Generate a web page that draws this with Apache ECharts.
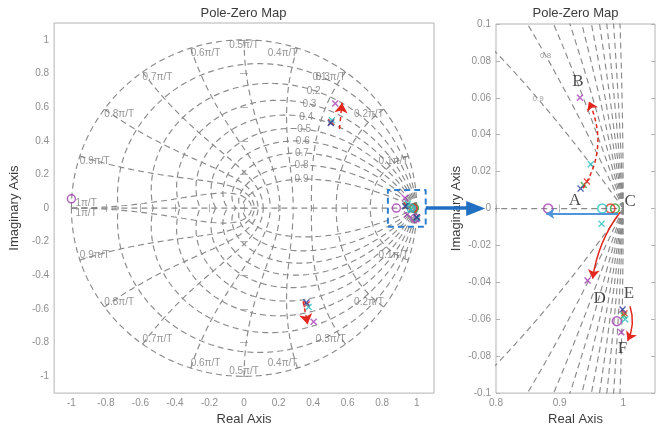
<!DOCTYPE html>
<html><head><meta charset="utf-8">
<script src="https://cdn.jsdelivr.net/npm/echarts@6/dist/echarts.min.js"></script>
<style>html,body{margin:0;padding:0;background:#fff}#c{width:669px;height:431px}</style>
</head><body><div id="c"></div>
<script>
// ---------------- data ----------------
const xTicksMain = [-1, -0.8, -0.6, -0.4, -0.2, 0, 0.2, 0.4, 0.6, 0.8, 1];
const yTicksMain = [-1, -0.8, -0.6, -0.4, -0.2, 0, 0.2, 0.4, 0.6, 0.8, 1];
const xTicksZoom = [0.8, 0.9, 1];
const yTicksZoom = [-0.1, -0.08, -0.06, -0.04, -0.02, 0, 0.02, 0.04, 0.06, 0.08, 0.1];
const dampingRatios = [0.1, 0.2, 0.3, 0.4, 0.5, 0.6, 0.7, 0.8, 0.9];
const natFreqs = [0.1, 0.2, 0.3, 0.4, 0.5, 0.6, 0.7, 0.8, 0.9, 1]; // x pi/T

// poles (x) and zeros (o), one colour group each
const purplePoles = [[0.528, 0.622], [0.403, -0.676], [0.932, 0.060], [0.944, -0.039], [0.997, -0.067]];
const purpleZeros = [[-1.0, 0.055], [0.882, 0], [0.990, -0.061]];
const cyanPoles   = [[0.509, 0.522], [0.374, -0.588], [0.949, 0.024], [0.966, -0.0083], [1.003, -0.060]];
const cyanZeros   = [[0.967, 0]];
const redPoles    = [[0.505, 0.512], [0.363, -0.572], [0.943, 0.0147], [1.002, -0.0567]];
const redZeros    = [[0.980, 0]];
const greenPoles  = [[0.938, 0.0128], [1.001, -0.058]];
const greenZeros  = [[0.987, 0]];
const navyPoles   = [[0.502, 0.506], [0.361, -0.562], [0.933, 0.0108], [0.999, -0.0547]];

// annotations (data coordinates)
const trajAB = [[0.937, 0.011], [0.946, 0.058]];
const trajCD = [[0.995, -0.002], [0.952, -0.038]];
const trajEF = [[1.0107, -0.0529], [1.007, -0.0717]];
const trajCA = [[0.992, -0.0028], [0.879, -0.0028]];
const trajUpper = [[0.553, 0.47], [0.567, 0.625]];
const trajLower = [[0.342, -0.555], [0.368, -0.69]];
const pointLetters = [['A', 0.924, 0.0045], ['B', 0.929, 0.069], ['C', 1.011, 0.004], ['D', 0.963, -0.049], ['E', 1.009, -0.046], ['F', 0.999, -0.076]];
const zoomBox = [0.833, 1.052, -0.111, 0.107]; // xmin, xmax, ymin, ymax
const bigArrowTipX = 0.783; // in zoom-panel coordinates

// ---------------- layout / style ----------------
const gridL = {left: 53, top: 23, width: 381, height: 373};
const gridR = {left: 496, top: 24, width: 159, height: 372};
const FONT = 'Liberation Sans, Arial, sans-serif';
const frameColor = '#b3b3b3';
const tickText = '#8f8f8f';
const gridColor = '#8a8a8a';
const COL = {purple: '#a23db3', cyan: '#25bfc0', red: '#e2281e', green: '#2f9f3c', navy: '#2c3a9c'};
const XPATH = 'path://M0,1.4L1.4,0L5,3.6L8.6,0L10,1.4L6.4,5L10,8.6L8.6,10L5,6.4L1.4,10L0,8.6L3.6,5Z';

const fmt = v => String(+(+v).toFixed(3));

function mkX(gi, min, max, ticks, pos, labels, name) {
  return {type: 'value', gridIndex: gi, min, max, position: pos,
    axisLine: {show: false}, splitLine: {show: false},
    axisTick: {show: true, inside: true, length: 4, customValues: ticks, lineStyle: {color: frameColor}},
    axisLabel: {show: labels, customValues: ticks, color: tickText, fontSize: 10, fontFamily: FONT, margin: 5, formatter: fmt},
    name: name || '', nameLocation: 'middle', nameGap: 18,
    nameTextStyle: {color: '#3c3c3c', fontSize: 13, fontFamily: FONT}};
}
function mkY(gi, min, max, ticks, pos, labels, name, gap) {
  return {type: 'value', gridIndex: gi, min, max, position: pos,
    axisLine: {show: false}, splitLine: {show: false},
    axisTick: {show: true, inside: true, length: 4, customValues: ticks, lineStyle: {color: frameColor}},
    axisLabel: {show: labels, customValues: ticks, color: tickText, fontSize: 10, fontFamily: FONT, margin: 5, formatter: fmt},
    name: name || '', nameLocation: 'middle', nameGap: gap || 26, nameRotate: 90,
    nameTextStyle: {color: '#3c3c3c', fontSize: 13, fontFamily: FONT}};
}

// zgrid curves
function dampingCurve(z, sign) {
  const m = z / Math.sqrt(1 - z * z), N = 320, pts = [];
  for (let i = 0; i <= N; i++) {
    const th = Math.PI * Math.pow(i / N, 1.6), r = Math.exp(-m * th);
    pts.push([r * Math.cos(th), sign * r * Math.sin(th)]);
  }
  return pts;
}
function natCurve(k, sign) {
  const wn = k * Math.PI, N = 200, pts = [];
  for (let i = 0; i <= N; i++) {
    const phi = (Math.PI / 2) * i / N, zeta = Math.sin(phi);
    const r = Math.exp(-zeta * wn), a = wn * Math.cos(phi);
    pts.push([r * Math.cos(a), sign * r * Math.sin(a)]);
  }
  return pts;
}
function dampPoint(z, wn) {
  const th = wn * Math.sqrt(1 - z * z), r = Math.exp(-z * wn);
  return [r * Math.cos(th), r * Math.sin(th)];
}

const series = [];
function addGrid(gi) {
  const ax = gi === 0 ? 0 : 2;
  const style = {color: gridColor, width: 1.15, type: [6, 4]};
  const curves = [];
  [0].concat(dampingRatios).forEach(z => { curves.push(dampingCurve(z, 1), dampingCurve(z, -1)); });
  if (gi === 0) natFreqs.forEach(k => { curves.push(natCurve(k, 1), natCurve(k, -1)); });
  curves.push([[-1, 0], [1, 0]]);
  curves.forEach(c => series.push({type: 'line', xAxisIndex: ax, yAxisIndex: ax, data: c, symbol: 'none', showSymbol: false,
    lineStyle: style, silent: true, z: 1, animation: false}));
}
addGrid(0); addGrid(1);

// grid labels
const labelBase = {type: 'scatter', symbol: 'circle', symbolSize: 1, itemStyle: {color: 'rgba(0,0,0,0)'}, silent: true, z: 2};
series.push(Object.assign({}, labelBase, {xAxisIndex: 0, yAxisIndex: 0,
  data: dampingRatios.map(z => ({value: dampPoint(z, Math.PI / 3), name: String(z)})),
  label: {show: true, formatter: '{b}', position: 'inside', align: 'right', verticalAlign: 'middle', offset: [4, 0], color: '#7a7a7a', fontSize: 10, fontFamily: FONT}}));
series.push(Object.assign({}, labelBase, {xAxisIndex: 2, yAxisIndex: 2,
  data: dampingRatios.map(z => ({value: dampPoint(z, 0.05 * Math.PI), name: String(z)})),
  label: {show: true, formatter: '{b}', position: 'inside', align: 'center', verticalAlign: 'middle', color: '#8a8a8a', fontSize: 8, fontFamily: FONT}}));
const nfData = [];
natFreqs.forEach(k => {
  const a = k * Math.PI, txt = (k === 1 ? '1' : String(k)) + 'π/T';
  const al = k < 0.5 ? 'right' : (k === 0.5 ? 'center' : 'left');
  [1, -1].forEach(s => {
    let va = s > 0 ? 'top' : 'bottom';
    if (k === 1) va = s > 0 ? 'bottom' : 'top';
    nfData.push({value: [Math.cos(a), s * Math.sin(a)], name: txt,
      label: {align: al, verticalAlign: va, offset: [k === 1 ? 4 : 0, 0]}});
  });
});
series.push(Object.assign({}, labelBase, {xAxisIndex: 0, yAxisIndex: 0, data: nfData,
  label: {show: true, formatter: '{b}', position: 'inside', color: '#7a7a7a', fontSize: 10, fontFamily: FONT}}));

// zoom box
series.push({type: 'line', xAxisIndex: 0, yAxisIndex: 0, symbol: 'none', z: 6, silent: true,
  data: [[zoomBox[0], zoomBox[2]], [zoomBox[1], zoomBox[2]], [zoomBox[1], zoomBox[3]], [zoomBox[0], zoomBox[3]], [zoomBox[0], zoomBox[2]]],
  lineStyle: {color: '#2f7fd0', width: 2, type: [6, 4]}});

// poles / zeros
const groups = [
  {c: COL.purple, p: purplePoles, z: purpleZeros},
  {c: COL.green, p: greenPoles, z: greenZeros},
  {c: COL.red, p: redPoles, z: redZeros},
  {c: COL.cyan, p: cyanPoles, z: cyanZeros},
  {c: COL.navy, p: navyPoles, z: []}
];
[0, 2].forEach(ax => {
  groups.forEach(g => {
    series.push({type: 'scatter', xAxisIndex: ax, yAxisIndex: ax, data: g.p, symbol: XPATH, symbolSize: 7,
      itemStyle: {color: g.c}, z: 5, silent: true, clip: true});
    if (g.z.length) series.push({type: 'scatter', xAxisIndex: ax, yAxisIndex: ax, data: g.z, symbol: 'circle', symbolSize: ax === 0 ? 8 : 9,
      itemStyle: {color: 'rgba(0,0,0,0)', borderColor: g.c, borderWidth: 1.5}, z: 5, silent: true, clip: true});
  });
});

// trajectory arrows
function arrow(ax, coords, color, width, type, curv, size) {
  series.push({type: 'lines', coordinateSystem: 'cartesian2d', xAxisIndex: ax, yAxisIndex: ax, z: 7, silent: true,
    symbol: ['none', 'arrow'], symbolSize: size, data: [{coords: coords}],
    lineStyle: {color: color, width: width, type: type, curveness: curv, opacity: 1}});
}
arrow(2, trajAB, COL.red, 1.5, [4, 3], -0.27, 9);
arrow(2, trajCD, COL.red, 1.5, 'solid', -0.13, 9);
arrow(2, trajEF, COL.red, 1.5, 'solid', 0.2, 9);
arrow(2, trajCA, '#4f94dc', 2, 'solid', 0, 8);
arrow(0, trajUpper, COL.red, 1.5, [4, 4], 0, 10);
arrow(0, trajLower, COL.red, 1.5, [4, 3], 0, 10);

// letters
series.push({type: 'scatter', xAxisIndex: 2, yAxisIndex: 2, symbol: 'circle', symbolSize: 1, itemStyle: {color: 'rgba(0,0,0,0)'}, z: 8, silent: true,
  data: pointLetters.map(d => ({value: [d[1], d[2]], name: d[0]})),
  label: {show: true, formatter: '{b}', position: 'inside', color: '#1e1e1e', fontSize: 17, fontFamily: 'Liberation Serif, Times New Roman, serif'}});

const option = {
  animation: false,
  backgroundColor: '#fff',
  grid: [
    Object.assign({show: true, borderColor: frameColor, borderWidth: 1, containLabel: false}, gridL),
    Object.assign({show: true, borderColor: frameColor, borderWidth: 1, containLabel: false}, gridR)
  ],
  xAxis: [
    mkX(0, -1.1, 1.1, xTicksMain, 'bottom', true, 'Real Axis'),
    mkX(0, -1.1, 1.1, xTicksMain, 'top', false),
    mkX(1, 0.8, 1.05, xTicksZoom, 'bottom', true, 'Real Axis'),
    mkX(1, 0.8, 1.05, xTicksZoom, 'top', false)
  ],
  yAxis: [
    mkY(0, -1.1, 1.1, yTicksMain, 'left', true, 'Imaginary Axis', 25),
    mkY(0, -1.1, 1.1, yTicksMain, 'right', false),
    mkY(1, -0.1, 0.1, yTicksZoom, 'left', true, 'Imaginary Axis', 33),
    mkY(1, -0.1, 0.1, yTicksZoom, 'right', false)
  ],
  series: series
};

const chart = echarts.init(document.getElementById('c'), null, {renderer: 'canvas'});
chart.setOption(option);

// titles + connecting arrow
const p0 = chart.convertToPixel({gridIndex: 0}, [zoomBox[1], 0]);
const p1 = chart.convertToPixel({gridIndex: 1}, [bigArrowTipX, 0]);
const headLen = 19, headHalf = 7.5, shaft = 3.4;
chart.setOption({graphic: [
  {type: 'text', x: gridL.left + gridL.width / 2, y: 13, style: {text: 'Pole-Zero Map', fill: '#3c3c3c', font: '13px ' + FONT, align: 'center', verticalAlign: 'middle'}},
  {type: 'text', x: gridR.left + gridR.width / 2, y: 13, style: {text: 'Pole-Zero Map', fill: '#3c3c3c', font: '13px ' + FONT, align: 'center', verticalAlign: 'middle'}},
  {type: 'rect', shape: {x: p0[0], y: p0[1] - shaft / 2, width: p1[0] - headLen - p0[0] + 2, height: shaft}, style: {fill: '#1f6fc2'}, z: 10},
  {type: 'polygon', shape: {points: [[p1[0], p1[1]], [p1[0] - headLen, p1[1] - headHalf], [p1[0] - headLen, p1[1] + headHalf]]}, style: {fill: '#1f6fc2'}, z: 10}
]});
</script>
</body></html>
